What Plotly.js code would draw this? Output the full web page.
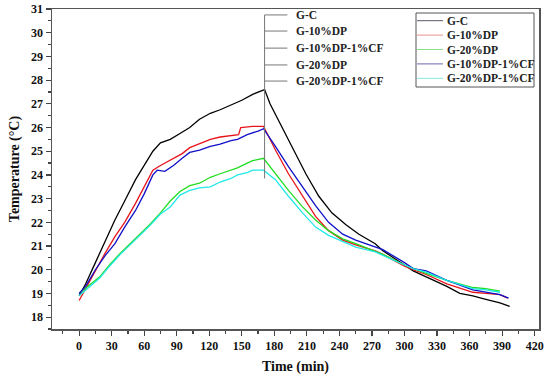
<!DOCTYPE html>
<html>
<head>
<meta charset="utf-8">
<script src="https://cdn.plot.ly/plotly-3.0.1.min.js"></script>
<style>html,body{margin:0;padding:0;background:#fff;}#chart{width:550px;height:376px;}</style>
</head>
<body>
<div id="chart"></div>
<script>
// ---- data ----
const seriesNames = ["G-C", "G-10%DP", "G-20%DP", "G-10%DP-1%CF", "G-20%DP-1%CF"];

const tGC  = [0, 6, 15, 24, 33, 42, 52, 60, 68, 75, 84, 93, 102, 111, 121, 130, 140, 150, 160, 166, 171,
              176, 184, 196, 209, 221, 233, 246, 258, 273, 280, 300, 308, 320, 339, 351, 363, 375, 388, 397];
const vGC  = [18.9, 19.4, 20.3, 21.2, 22.1, 22.9, 23.8, 24.4, 25.0, 25.35, 25.5, 25.75, 26.0, 26.35, 26.6, 26.75, 26.95, 27.15, 27.4, 27.5, 27.6,
              27.0, 26.3, 25.2, 24.05, 23.1, 22.4, 21.9, 21.5, 21.1, 20.8, 20.2, 19.95, 19.7, 19.3, 19.0, 18.9, 18.75, 18.6, 18.45];

const t10  = [0, 6, 15, 24, 33, 42, 52, 60, 68, 75, 87, 95, 102, 111, 121, 130, 140, 147, 149, 160, 170,
              181, 193, 206, 218, 230, 243, 255, 273, 280, 300, 308, 320, 339, 363, 375, 388, 395];
const v10  = [18.7, 19.2, 20.0, 20.7, 21.4, 22.0, 22.8, 23.5, 24.2, 24.4, 24.7, 24.9, 25.15, 25.3, 25.5, 25.6, 25.65, 25.7, 26.0, 26.05, 26.05,
              25.05, 24.05, 23.1, 22.25, 21.65, 21.25, 21.05, 20.8, 20.65, 20.15, 20.0, 19.8, 19.4, 19.05, 19.0, 18.95, 18.8];

const t20  = [0, 10, 19, 28, 38, 47, 56, 65, 75, 84, 93, 102, 111, 121, 130, 140, 146, 155, 160, 170,
              181, 193, 206, 218, 230, 243, 255, 273, 280, 300, 308, 320, 339, 363, 375, 388];
const v20  = [19.0, 19.35, 19.7, 20.2, 20.7, 21.1, 21.5, 21.9, 22.4, 22.9, 23.3, 23.55, 23.65, 23.9, 24.05, 24.2, 24.3, 24.5, 24.6, 24.7,
              24.05, 23.35, 22.65, 22.1, 21.65, 21.3, 21.1, 20.8, 20.65, 20.2, 20.05, 19.85, 19.55, 19.25, 19.2, 19.1];

const t10c = [0, 6, 15, 24, 33, 42, 52, 60, 68, 72, 79, 87, 95, 102, 111, 121, 130, 140, 146, 155, 165, 170,
              181, 193, 206, 218, 230, 243, 255, 273, 280, 300, 308, 320, 339, 363, 375, 388, 396];
const v10c = [19.0, 19.3, 20.0, 20.6, 21.1, 21.8, 22.5, 23.2, 24.0, 24.2, 24.15, 24.4, 24.7, 24.95, 25.05, 25.2, 25.3, 25.45, 25.5, 25.7, 25.85, 25.95,
              25.2, 24.35, 23.5, 22.7, 22.0, 21.5, 21.25, 20.95, 20.85, 20.3, 20.05, 19.95, 19.55, 19.15, 19.05, 18.95, 18.8];

const t20c = [0, 10, 19, 28, 38, 47, 56, 65, 75, 84, 93, 102, 111, 121, 130, 140, 146, 155, 160, 170,
              181, 193, 206, 218, 230, 243, 255, 273, 280, 300, 308, 320, 339, 363, 375, 388];
const v20c = [18.9, 19.3, 19.65, 20.15, 20.65, 21.05, 21.45, 21.85, 22.35, 22.65, 23.15, 23.35, 23.45, 23.5, 23.7, 23.85, 24.0, 24.1, 24.2, 24.2,
              23.8, 23.1, 22.4, 21.8, 21.45, 21.2, 20.95, 20.75, 20.6, 20.2, 20.05, 19.9, 19.55, 19.2, 19.15, 19.05];

const xTicks = [0, 30, 60, 90, 120, 150, 180, 210, 240, 270, 300, 330, 360, 390, 420];
const yTicks = [18, 19, 20, 21, 22, 23, 24, 25, 26, 27, 28, 29, 30, 31];
const calloutLabels = ["G-C", "G-10%DP", "G-10%DP-1%CF", "G-20%DP", "G-20%DP-1%CF"];

// ---- styling ----
const colors = ["#000000", "#e8141b", "#22dd22", "#1010c8", "#22e8e8"];
const legendColors = ["#5a5a6a", "#e89090", "#88e088", "#6a6ab0", "#88e8e8"];
const xs = [tGC, t10, t20, t10c, t20c];
const ys = [vGC, v10, v20, v10c, v20c];
const FONT = "Liberation Serif, Times New Roman, serif";

const traces = seriesNames.map((n, i) => ({
  type: "scatter", mode: "lines", name: n, x: xs[i], y: ys[i],
  line: {color: colors[i], width: 1.3}, showlegend: false
}));

const peakT = 171;
const calloutY = [30.75, 30.07, 29.35, 28.64, 27.96];
const shapes = [{type: "line", xref: "x", yref: "y", x0: peakT, x1: peakT, y0: 23.85, y1: 30.75,
                 line: {color: "#777", width: 1}}];
const annotations = [];
calloutY.forEach((yy, i) => {
  shapes.push({type: "line", xref: "x", yref: "y", x0: peakT, x1: 192, y0: yy, y1: yy,
               line: {color: "#777", width: 1}});
  annotations.push({xref: "x", yref: "y", x: 198, y: yy, text: calloutLabels[i], showarrow: false,
                    xanchor: "left", yanchor: "middle",
                    font: {family: FONT, size: 11.5, color: "#222", weight: "bold"}});
});

// custom compact legend (paper coordinates derived from pixel layout)
const M = {l: 52, r: 11, t: 9, b: 47}, W = 550, H = 376;
const pw = W - M.l - M.r, ph = H - M.t - M.b;
const px = x => (x - M.l) / pw;
const py = y => 1 - (y - M.t) / ph;
shapes.push({type: "rect", xref: "paper", yref: "paper", x0: px(416), x1: px(534), y0: py(87), y1: py(13),
             line: {color: "#555", width: 1}, fillcolor: "#fff", layer: "above"});
seriesNames.forEach((n, i) => {
  const yy = 20.7 + i * 14.4;
  shapes.push({type: "line", xref: "paper", yref: "paper", x0: px(417), x1: px(443), y0: py(yy), y1: py(yy),
               line: {color: legendColors[i], width: 1}, layer: "above"});
  annotations.push({xref: "paper", yref: "paper", x: px(445), y: py(yy), text: n, showarrow: false,
                    xanchor: "left", yanchor: "middle",
                    font: {family: FONT, size: 11.5, color: "#222", weight: "bold"}});
});

const layout = {
  width: W, height: H,
  margin: M,
  paper_bgcolor: "#fff", plot_bgcolor: "#fff",
  font: {family: FONT, color: "#111"},
  showlegend: false,
  xaxis: {range: [-25, 424], tickvals: xTicks, ticktext: xTicks.map(String),
          ticks: "outside", ticklen: 5, tickwidth: 1.2, tickcolor: "#444",
          showline: true, linecolor: "#555", linewidth: 1.5, mirror: true,
          showgrid: false, zeroline: false,
          minor: {dtick: 15, tick0: 0, ticks: "outside", ticklen: 3, tickcolor: "#444", showgrid: false},
          tickfont: {family: FONT, size: 12, weight: "bold", color: "#111"},
          title: {text: "Time (min)", font: {family: FONT, size: 14, weight: "bold", color: "#111"}, standoff: 9}},
  yaxis: {range: [17.5, 31], tickvals: yTicks, ticktext: yTicks.map(String),
          ticks: "outside", ticklen: 5, tickwidth: 1.2, tickcolor: "#444",
          showline: true, linecolor: "#555", linewidth: 1.5, mirror: true,
          showgrid: false, zeroline: false,
          minor: {dtick: 0.5, tick0: 17.5, ticks: "outside", ticklen: 3, tickcolor: "#444", showgrid: false},
          tickfont: {family: FONT, size: 12, weight: "bold", color: "#111"},
          title: {text: "Temperature (°C)", font: {family: FONT, size: 14, weight: "bold", color: "#111"}, standoff: 8}},
  shapes: shapes, annotations: annotations
};

Plotly.newPlot("chart", traces, layout, {displayModeBar: false, staticPlot: true});
</script>
</body>
</html>
